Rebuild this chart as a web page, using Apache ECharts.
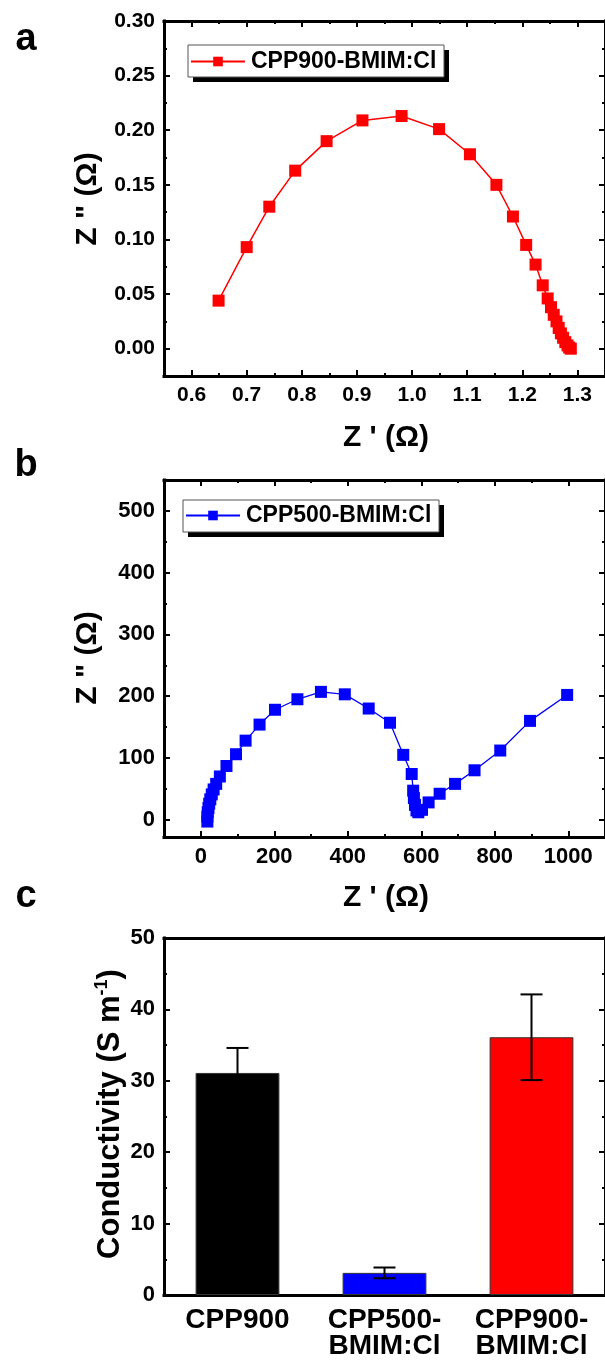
<!DOCTYPE html>
<html><head><meta charset="utf-8">
<script src="https://cdn.jsdelivr.net/npm/echarts@6/dist/echarts.min.js"></script>
<style>html,body{margin:0;padding:0;background:#fff}#c{width:605px;height:1360px}</style>
</head><body><div id="c"></div>
<script>
// ---------- Panel a data ----------
const aName = 'CPP900-BMIM:Cl';
const aZre = [0.649, 0.700, 0.741, 0.788, 0.845, 0.910, 0.981, 1.049, 1.105, 1.153, 1.183, 1.207, 1.224, 1.237,
              1.246, 1.252, 1.257, 1.262, 1.266, 1.270, 1.274, 1.278, 1.282, 1.285, 1.288];
const aZim = [0.044, 0.093, 0.130, 0.163, 0.190, 0.209, 0.213, 0.201, 0.178, 0.150, 0.121, 0.095, 0.077, 0.058,
              0.046, 0.038, 0.031, 0.025, 0.019, 0.014, 0.010, 0.006, 0.003, 0.001, 0.000];
const aXTicks = [0.6, 0.7, 0.8, 0.9, 1.0, 1.1, 1.2, 1.3];
const aXMinor = [0.65, 0.75, 0.85, 0.95, 1.05, 1.15, 1.25];
const aYTicks = [0, 0.05, 0.10, 0.15, 0.20, 0.25, 0.30];
const aYMinor = [0.025, 0.075, 0.125, 0.175, 0.225, 0.275];

// ---------- Panel b data ----------
const bName = 'CPP500-BMIM:Cl';
const bZre = [18, 18, 19, 21, 23, 26, 30, 35, 42, 52, 70, 96, 122, 160, 202, 263, 327, 392, 457, 515, 551, 574,
              578, 580, 583, 587, 592, 602, 620, 650, 692, 745, 815, 896, 997];
const bZim = [-3, 5, 12, 19, 26, 33, 41, 49, 58, 70, 87, 106, 128, 154, 178, 195, 207, 203, 180, 157, 105, 74,
              47, 35, 24, 15, 12, 16, 28, 42, 58, 80, 112, 160, 202];
const bXTicks = [0, 200, 400, 600, 800, 1000];
const bXMinor = [100, 300, 500, 700, 900];
const bYTicks = [0, 100, 200, 300, 400, 500];
const bYMinor = [50, 150, 250, 350, 450];

// ---------- Panel c data ----------
const cCategories = ['CPP900', 'CPP500-\nBMIM:Cl', 'CPP900-\nBMIM:Cl'];
const cValues = [31.1, 3.1, 36.1];
const cErrors = [3.5, 0.75, 6.0];
const cColors = ['#000000', '#0000FF', '#FF0000'];
const cYTicks = [0, 10, 20, 30, 40, 50];
const cYMinor = [5, 15, 25, 35, 45];

const FONT = '"Liberation Sans", Arial, sans-serif';

function axisPair(gridIndex, position, min, max, ticks, minor, fmt, showLabels, fontSize) {
  const main = {
    type: 'value', gridIndex, position, min, max,
    axisLine: { show: true, onZero: false, lineStyle: { color: '#000', width: 3, cap: 'square' } },
    axisTick: { show: true, inside: true, length: 6, lineStyle: { color: '#000', width: 2 }, customValues: ticks },
    axisLabel: showLabels ? {
      show: true, customValues: ticks, formatter: fmt, fontSize: fontSize, fontWeight: 'bold',
      color: '#000', fontFamily: FONT, margin: 9
    } : { show: false },
    splitLine: { show: false }
  };
  const mnr = {
    type: 'value', gridIndex, position, min, max,
    axisLine: { show: false, onZero: false },
    axisTick: { show: true, inside: true, length: 3, lineStyle: { color: '#000', width: 2 }, customValues: minor },
    axisLabel: { show: false },
    splitLine: { show: false }
  };
  return [main, mnr];
}

const f2 = v => v.toFixed(2);
const f1 = v => v.toFixed(1);
const f0 = v => String(Math.round(v));

const xAxes = [
  ...axisPair(0, 'bottom', 0.55, 1.35, aXTicks, aXMinor, f1, true, 21),
  ...axisPair(0, 'top', 0.55, 1.35, aXTicks, aXMinor, f1, false),
  ...axisPair(1, 'bottom', -100, 1100, bXTicks, bXMinor, f0, true, 22),
  ...axisPair(1, 'top', -100, 1100, bXTicks, bXMinor, f0, false),
  {
    type: 'category', gridIndex: 2, position: 'bottom', data: cCategories,
    axisLine: { show: true, onZero: false, lineStyle: { color: '#000', width: 3, cap: 'square' } },
    axisTick: { show: false },
    axisLabel: { fontSize: 28, fontWeight: 'bold', color: '#000', fontFamily: FONT, margin: 12, lineHeight: 26, interval: 0 },
    splitLine: { show: false }
  },
  {
    type: 'category', gridIndex: 2, position: 'top', data: cCategories,
    axisLine: { show: true, onZero: false, lineStyle: { color: '#000', width: 3, cap: 'square' } },
    axisTick: { show: false }, axisLabel: { show: false }, splitLine: { show: false }
  }
];

const yAxes = [
  ...axisPair(0, 'left', -0.025, 0.30, aYTicks, aYMinor, f2, true, 21),
  ...axisPair(0, 'right', -0.025, 0.30, aYTicks, aYMinor, f2, false),
  ...axisPair(1, 'left', -28, 550, bYTicks, bYMinor, f0, true, 22),
  ...axisPair(1, 'right', -28, 550, bYTicks, bYMinor, f0, false),
  ...axisPair(2, 'left', 0, 50, cYTicks, cYMinor, f0, true, 22),
  ...axisPair(2, 'right', 0, 50, cYTicks, cYMinor, f0, false)
];

function legendFor(name, left, top) {
  return {
    data: [name], left, top, orient: 'horizontal',
    itemWidth: 54, itemHeight: 12, itemGap: 4,
    textStyle: { fontSize: 23, fontWeight: 'bold', color: '#000', fontFamily: FONT, padding: [0, 0, 0, 1] },
    padding: [4, 6, 4, 3],
    selectedMode: false, z: 6
  };
}

function legendBox(x, y, w, h) {
  return [
    { type: 'rect', shape: { x: x + 5, y: y + 5, width: w, height: h }, style: { fill: '#000' }, z: 1 },
    { type: 'rect', shape: { x: x, y: y, width: w, height: h }, style: { fill: '#fff', stroke: '#555', lineWidth: 1 }, z: 2 }
  ];
}

function titleText(text, x, y, size, rot) {
  return {
    type: 'text', x, y, rotation: rot || 0, z: 3,
    style: { text, font: 'bold ' + size + 'px ' + FONT, fill: '#000', align: 'center', verticalAlign: 'middle' }
  };
}

const option = {
  backgroundColor: '#fff',
  animation: false,
  grid: [
    { left: 164, top: 21, width: 444, height: 355 },
    { left: 164, top: 480, width: 442, height: 357 },
    { left: 164, top: 938, width: 444, height: 357 }
  ],
  xAxis: xAxes,
  yAxis: yAxes,
  legend: [legendFor(aName, 187, 46), legendFor(bName, 182, 500)],
  graphic: [
    ...legendBox(188, 45, 256, 32),
    ...legendBox(183, 500, 256, 32),
    titleText('a', 26, 40, 38),
    titleText('b', 26, 466, 38),
    titleText('c', 26, 897, 38),
    titleText("Z ' (Ω)", 386, 438, 30),
    titleText('Z " (Ω)', 88, 199, 30, Math.PI / 2),
    titleText("Z ' (Ω)", 386, 898, 30),
    titleText('Z " (Ω)', 88, 658, 30, Math.PI / 2),
    {
      type: 'text', x: 110, y: 1114, rotation: Math.PI / 2, z: 3,
      style: {
        text: 'Conductivity (S m{sup|-1})',
        font: 'bold 31px ' + FONT, fill: '#000', align: 'center', verticalAlign: 'middle',
        rich: { sup: { fontSize: 18, fontWeight: 'bold', fontFamily: FONT, verticalAlign: 'top', padding: [0, 0, 15, 0] } }
      }
    }
  ],
  series: [
    {
      name: aName, type: 'line', xAxisIndex: 0, yAxisIndex: 0,
      data: aZre.map((x, i) => [x, aZim[i]]),
      symbol: 'rect', symbolSize: 12,
      itemStyle: { color: '#FF0000' }, lineStyle: { color: '#FF0000', width: 1.5 }, z: 5
    },
    {
      name: bName, type: 'line', xAxisIndex: 4, yAxisIndex: 4,
      data: bZre.map((x, i) => [x, bZim[i]]),
      symbol: 'rect', symbolSize: 12,
      itemStyle: { color: '#0000FF' }, lineStyle: { color: '#0000FF', width: 1.3 }, z: 5
    },
    {
      name: 'Conductivity', type: 'bar', xAxisIndex: 8, yAxisIndex: 8,
      barWidth: '57%',
      data: cValues.map((v, i) => ({ value: v, itemStyle: { color: cColors[i], borderColor: '#333', borderWidth: 1 } }))
    },
    {
      name: 'Error', type: 'custom', xAxisIndex: 8, yAxisIndex: 8, z: 10,
      encode: { x: 0, y: [1, 2] },
      data: cValues.map((v, i) => [i, v - cErrors[i], v + cErrors[i]]),
      renderItem: function (params, api) {
        const xi = api.value(0);
        const lo = api.coord([xi, api.value(1)]);
        const hi = api.coord([xi, api.value(2)]);
        const w = 11;
        const st = { stroke: '#000', lineWidth: 2 };
        return {
          type: 'group', children: [
            { type: 'line', shape: { x1: lo[0], y1: lo[1], x2: hi[0], y2: hi[1] }, style: st },
            { type: 'line', shape: { x1: hi[0] - w, y1: hi[1], x2: hi[0] + w, y2: hi[1] }, style: st },
            { type: 'line', shape: { x1: lo[0] - w, y1: lo[1], x2: lo[0] + w, y2: lo[1] }, style: st }
          ]
        };
      }
    }
  ]
};

const chart = echarts.init(document.getElementById('c'), null, { renderer: 'canvas' });
chart.setOption(option);
</script>
</body></html>
